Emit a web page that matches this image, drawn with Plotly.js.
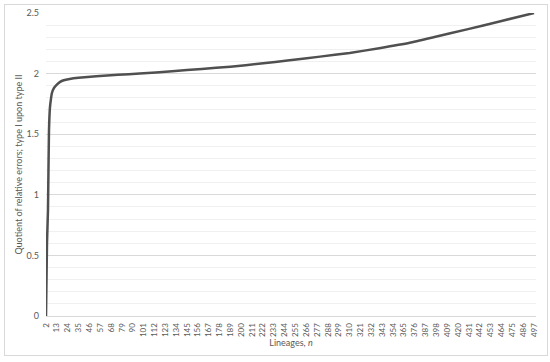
<!DOCTYPE html>
<html>
<head>
<meta charset="utf-8">
<script src="https://cdn.plot.ly/plotly-3.0.1.min.js"></script>
<style>
    html, body { margin: 0; padding: 0; background: #ffffff; }
    #chart { width: 550px; height: 362px; }
    /* Excel-style chart area border */
    .chart-frame {
        position: absolute;
        left: 4px;
        top: 4px;
        width: 542px;
        height: 350px;
        border: 1px solid #d9d9d9;
        pointer-events: none;
    }
</style>
</head>
<body>
<div id="chart"></div>
<div class="chart-frame"></div>
<script>
// Lineages n and quotient of relative errors
const lineages = [2, 3, 4, 5, 6, 7, 8, 10, 13, 16, 20, 26, 35, 53, 75, 97, 130, 160,
    189, 220, 249, 280, 310, 340, 371, 395, 429, 462, 497];
const quotient = [0, 0.6, 0.87, 1.52, 1.72, 1.79, 1.84, 1.88, 1.91, 1.93, 1.945, 1.955,
    1.965, 1.978, 1.99, 2.0, 2.02, 2.038, 2.057, 2.083, 2.11, 2.14, 2.17, 2.21, 2.255,
    2.3, 2.365, 2.43, 2.5];

// Category labels shown on the x axis (every 11th lineage)
const xTickLabels = [2, 13, 24, 35, 46, 57, 68, 79, 90, 101, 112, 123, 134, 145, 156,
    167, 178, 189, 200, 211, 222, 233, 244, 255, 266, 277, 288, 299, 310, 321, 332, 343,
    354, 365, 376, 387, 398, 409, 420, 431, 442, 453, 464, 475, 486, 497];

const yTickValues = [0, 0.5, 1, 1.5, 2, 2.5];

const FONT = 'Lato, "Open Sans", sans-serif';
const LABEL_COLOR = '#595959';

const trace = {
    x: lineages,
    y: quotient,
    type: 'scatter',
    mode: 'lines',
    line: { color: '#505050', width: 2.5, shape: 'spline', smoothing: 0.4 },
    hoverinfo: 'skip'
};

const layout = {
    width: 550,
    height: 362,
    margin: { l: 46, r: 14, t: 13, b: 46 },
    paper_bgcolor: '#ffffff',
    plot_bgcolor: '#ffffff',
    showlegend: false,
    font: { family: FONT, color: LABEL_COLOR, size: 9 },
    xaxis: {
        range: [2, 499],
        tickmode: 'array',
        tickvals: xTickLabels,
        ticktext: xTickLabels.map(String),
        tickangle: -90,
        tickfont: { size: 8, color: LABEL_COLOR },
        ticks: '',
        ticklabelstandoff: 3,
        showgrid: false,
        zeroline: false,
        showline: true,
        linecolor: '#d9d9d9',
        linewidth: 1,
        title: {
            text: 'Lineages, <i>n</i>',
            font: { size: 9, color: LABEL_COLOR },
            standoff: 2
        }
    },
    yaxis: {
        range: [0, 2.5],
        tickmode: 'array',
        tickvals: yTickValues,
        ticktext: yTickValues.map(String),
        tickfont: { size: 9, color: LABEL_COLOR },
        ticks: '',
        ticklabelstandoff: 6,
        showgrid: true,
        gridcolor: '#d9d9d9',
        gridwidth: 1,
        zeroline: false,
        showline: false,
        minor: {
            dtick: 0.1,
            showgrid: true,
            gridcolor: '#f0f0f0',
            gridwidth: 1
        },
        title: {
            text: 'Quotient of relative errors; type I upon type II',
            font: { size: 9, color: LABEL_COLOR },
            standoff: 2
        }
    }
};

Plotly.newPlot('chart', [trace], layout, { displayModeBar: false, staticPlot: true });
</script>
</body>
</html>
